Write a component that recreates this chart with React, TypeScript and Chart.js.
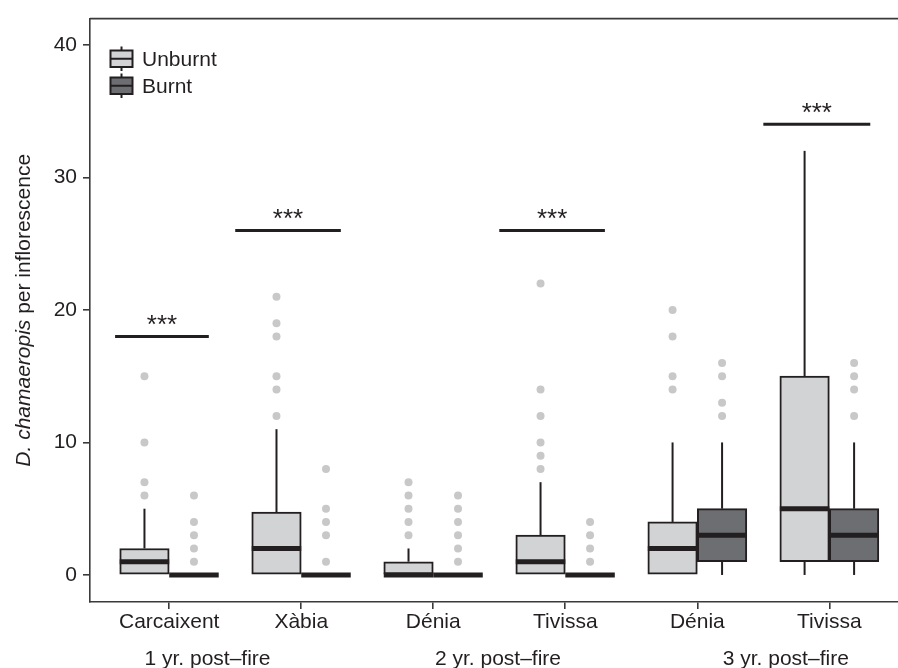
import React, { useEffect, useRef } from "react";
import { Chart, registerables } from "chart.js";

Chart.register(...registerables);

// ---------- data ----------
const sites = ["Carcaixent", "Xàbia", "Dénia", "Tivissa", "Dénia", "Tivissa"];
const periodLabels = ["1 yr. post–fire", "2 yr. post–fire", "3 yr. post–fire"];
const periodPositions = [1.29, 3.49, 5.67];
const yTicks = [0, 10, 20, 30, 40];
const seriesNames = ["Unburnt", "Burnt"];

const unburntLow = [0, 0, 0, 0, 0, 0];
const unburntQ1 = [0, 0, 0, 0, 0, 1];
const unburntMedian = [1, 2, 0, 1, 2, 5];
const unburntQ3 = [2, 4.75, 1, 3, 4, 15];
const unburntHigh = [5, 11, 2, 7, 10, 32];
const unburntOutliers = [
  [6, 7, 10, 15],
  [12, 14, 15, 18, 19, 21],
  [3, 4, 5, 6, 7],
  [8, 9, 10, 12, 14, 22],
  [14, 15, 18, 20],
  [],
];

const burntLow = [0, 0, 0, 0, 0, 0];
const burntQ1 = [0, 0, 0, 0, 1, 1];
const burntMedian = [0, 0, 0, 0, 3, 3];
const burntQ3 = [0, 0, 0, 0, 5, 5];
const burntHigh = [0, 0, 0, 0, 10, 10];
const burntOutliers = [
  [1, 2, 3, 4, 6],
  [1, 3, 4, 5, 8],
  [1, 2, 3, 4, 5, 6],
  [1, 2, 3, 4],
  [12, 13, 15, 16],
  [12, 14, 15, 16],
];

const sigSite = [1, 2, 4, 6];
const sigValue = [18, 26, 26, 34];
const sigFrom = [-0.41, -0.5, -0.5, -0.5];
const sigTo = [0.3, 0.3, 0.3, 0.31];
const sigLabel = ["***", "***", "***", "***"];

// ---------- style ----------
const INK = "#231F20";
const FRAME = "#3a3a3a";
const UNBURNT_FILL = "#D2D3D5";
const BURNT_FILL = "#6D6E71";
const OUTLIER = "#C8C8C8";
const FONT = "'Liberation Sans', Arial, Helvetica, sans-serif";
const DODGE = 0.1875;

const boxData = (q1: number[], q3: number[], off: number) =>
  sites.map((_, i) => ({ x: i + 1 + off, y: [q1[i], q3[i]] }));
const outlierData = (outs: number[][], off: number) =>
  outs.flatMap((arr, i) => arr.map((v) => ({ x: i + 1 + off, y: v })));

const extrasPlugin = {
  id: "boxExtras",
  afterDatasetsDraw(chart: any) {
    const { ctx, scales } = chart;
    const x = scales.x;
    const y = scales.y;
    ctx.save();
    // whiskers and medians
    chart.data.datasets.forEach((ds: any, di: number) => {
      if (!ds.stats) return;
      const meta = chart.getDatasetMeta(di);
      meta.data.forEach((bar: any, i: number) => {
        const p = bar.getProps(["x", "width"], true);
        const q1 = ds.data[i].y[0];
        const q3 = ds.data[i].y[1];
        ctx.strokeStyle = INK;
        ctx.lineCap = "butt";
        ctx.lineWidth = 2;
        if (ds.stats.high[i] > q3) {
          ctx.beginPath();
          ctx.moveTo(p.x, y.getPixelForValue(q3));
          ctx.lineTo(p.x, y.getPixelForValue(ds.stats.high[i]));
          ctx.stroke();
        }
        if (ds.stats.low[i] < q1) {
          ctx.beginPath();
          ctx.moveTo(p.x, y.getPixelForValue(q1));
          ctx.lineTo(p.x, y.getPixelForValue(ds.stats.low[i]));
          ctx.stroke();
        }
        ctx.lineWidth = 5;
        const my = y.getPixelForValue(ds.stats.median[i]);
        ctx.beginPath();
        ctx.moveTo(p.x - p.width / 2, my);
        ctx.lineTo(p.x + p.width / 2, my);
        ctx.stroke();
      });
    });
    // significance bars
    sigSite.forEach((s, k) => {
      const yy = y.getPixelForValue(sigValue[k]);
      const x0 = x.getPixelForValue(s + sigFrom[k]);
      const x1 = x.getPixelForValue(s + sigTo[k]);
      ctx.strokeStyle = INK;
      ctx.lineWidth = 3;
      ctx.beginPath();
      ctx.moveTo(x0, yy);
      ctx.lineTo(x1, yy);
      ctx.stroke();
      ctx.fillStyle = INK;
      ctx.font = `26px ${FONT}`;
      ctx.textAlign = "center";
      ctx.textBaseline = "alphabetic";
      ctx.fillText(sigLabel[k], (x0 + x1) / 2, yy - 3);
    });
    ctx.restore();
  },
  afterDraw(chart: any) {
    const { ctx, chartArea, scales } = chart;
    const x = scales.x;
    ctx.save();
    // top frame line
    ctx.strokeStyle = FRAME;
    ctx.lineWidth = 1.6;
    ctx.beginPath();
    ctx.moveTo(chartArea.left, chartArea.top);
    ctx.lineTo(chartArea.right, chartArea.top);
    ctx.stroke();

    // legend
    const fills = [UNBURNT_FILL, BURNT_FILL];
    const keyTops = [50.5, 77.5];
    const keyH = 16.5;
    const keyL = 110.5;
    const keyW = 22;
    seriesNames.forEach((name, k) => {
      const top = keyTops[k];
      const cx = keyL + keyW / 2;
      ctx.strokeStyle = INK;
      ctx.lineWidth = 2;
      ctx.beginPath();
      ctx.moveTo(cx, top - 4);
      ctx.lineTo(cx, top + keyH + 4);
      ctx.stroke();
      ctx.fillStyle = fills[k];
      ctx.fillRect(keyL, top, keyW, keyH);
      ctx.strokeRect(keyL, top, keyW, keyH);
      ctx.beginPath();
      ctx.moveTo(keyL, top + keyH / 2);
      ctx.lineTo(keyL + keyW, top + keyH / 2);
      ctx.stroke();
      ctx.fillStyle = INK;
      ctx.font = `21px ${FONT}`;
      ctx.textAlign = "left";
      ctx.textBaseline = "alphabetic";
      ctx.fillText(name, 142, top + 15.5);
    });

    // period labels
    ctx.fillStyle = INK;
    ctx.font = `21px ${FONT}`;
    ctx.textAlign = "center";
    ctx.textBaseline = "alphabetic";
    periodLabels.forEach((lab, k) => {
      ctx.fillText(lab, x.getPixelForValue(periodPositions[k]), 665);
    });

    // y title with italic genus
    const part1 = "D. chamaeropis";
    const part2 = " per inflorescence";
    ctx.font = `italic 21px ${FONT}`;
    const w1 = ctx.measureText(part1).width;
    ctx.font = `21px ${FONT}`;
    const w2 = ctx.measureText(part2).width;
    ctx.translate(30, (chartArea.top + chartArea.bottom) / 2);
    ctx.rotate(-Math.PI / 2);
    ctx.textAlign = "left";
    const start = -(w1 + w2) / 2;
    ctx.font = `italic 21px ${FONT}`;
    ctx.fillText(part1, start, 0);
    ctx.font = `21px ${FONT}`;
    ctx.fillText(part2, start + w1, 0);
    ctx.restore();
  },
};

export default function App() {
  const ref = useRef<HTMLCanvasElement | null>(null);

  useEffect(() => {
    if (!ref.current) return;
    const chart = new Chart(ref.current, {
      type: "bar",
      data: {
        datasets: [
          {
            type: "bar",
            label: seriesNames[0],
            data: boxData(unburntQ1, unburntQ3, -DODGE),
            backgroundColor: UNBURNT_FILL,
            borderColor: INK,
            borderWidth: 2,
            borderSkipped: false,
            grouped: false,
            barPercentage: 1,
            categoryPercentage: 1,
            stats: { low: unburntLow, median: unburntMedian, high: unburntHigh },
          } as any,
          {
            type: "bar",
            label: seriesNames[1],
            data: boxData(burntQ1, burntQ3, DODGE),
            backgroundColor: BURNT_FILL,
            borderColor: INK,
            borderWidth: 2,
            borderSkipped: false,
            grouped: false,
            barPercentage: 1,
            categoryPercentage: 1,
            stats: { low: burntLow, median: burntMedian, high: burntHigh },
          } as any,
          {
            type: "scatter",
            label: seriesNames[0] + " outliers",
            data: outlierData(unburntOutliers, -DODGE),
            pointRadius: 4,
            pointBackgroundColor: OUTLIER,
            pointBorderWidth: 0,
            showLine: false,
          } as any,
          {
            type: "scatter",
            label: seriesNames[1] + " outliers",
            data: outlierData(burntOutliers, DODGE),
            pointRadius: 4,
            pointBackgroundColor: OUTLIER,
            pointBorderWidth: 0,
            showLine: false,
          } as any,
        ],
      },
      options: {
        responsive: false,
        animation: false,
        events: [],
        layout: { autoPadding: false, padding: { top: 10, left: 0, right: 0, bottom: 0 } },
        plugins: { legend: { display: false }, tooltip: { enabled: false } },
        scales: {
          x: {
            type: "linear",
            position: "bottom",
            min: 0.4,
            max: 6.52,
            offset: false,
            afterBuildTicks: (s: any) => {
              s.ticks = sites.map((_, i) => ({ value: i + 1 }));
            },
            afterFit: (s: any) => {
              s.height = 66;
            },
            ticks: {
              autoSkip: false,
              maxRotation: 0,
              includeBounds: false,
              padding: 1,
              color: INK,
              font: { family: FONT, size: 21 },
              callback: (v: any) => sites[Math.round(v) - 1] ?? "",
            },
            grid: {
              offset: false,
              drawOnChartArea: false,
              drawTicks: true,
              tickLength: 7,
              color: FRAME,
              lineWidth: 1.6,
            },
            border: { display: true, color: FRAME, width: 1.6 },
          },
          y: {
            type: "linear",
            min: -2.04,
            max: 41.98,
            afterBuildTicks: (s: any) => {
              s.ticks = yTicks.map((v) => ({ value: v }));
            },
            afterFit: (s: any) => {
              s.width = 90;
            },
            ticks: {
              includeBounds: false,
              padding: 6,
              color: INK,
              font: { family: FONT, size: 21 },
            },
            grid: {
              drawOnChartArea: false,
              drawTicks: true,
              tickLength: 7,
              color: FRAME,
              lineWidth: 1.6,
            },
            border: { display: true, color: FRAME, width: 1.6 },
          },
        },
      } as any,
      plugins: [extrasPlugin],
    });
    return () => chart.destroy();
  }, []);

  return (
    <div style={{ position: "absolute", left: 0, top: 0, width: 898, height: 668, background: "#fff" }}>
      <canvas ref={ref} width={898} height={668} style={{ display: "block" }} />
    </div>
  );
}
